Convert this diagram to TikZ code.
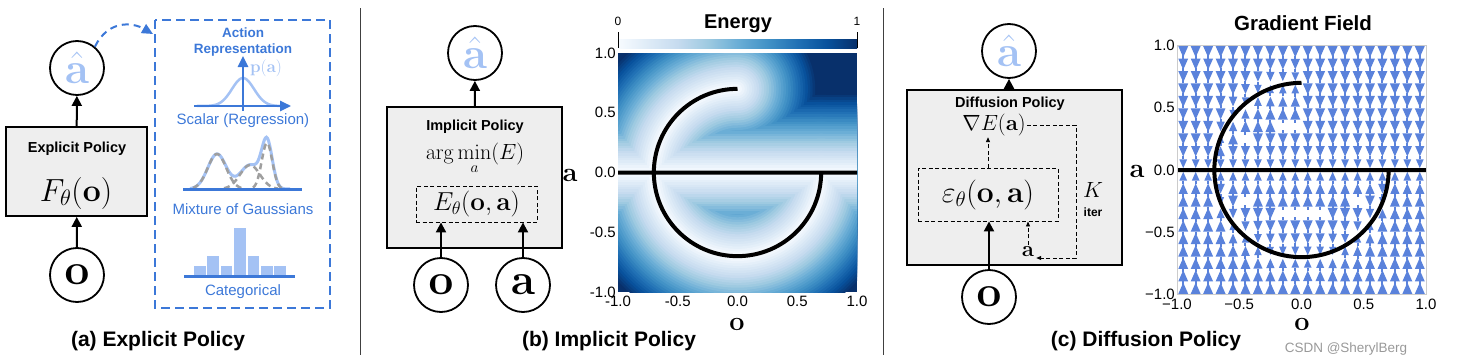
\RequirePackage{fix-cm}
\documentclass[tikz,border=0pt]{standalone}
\usepackage[no-math]{fontspec}
\setmainfont{Liberation Sans}
\usepackage{amsmath}
\usetikzlibrary{arrows.meta}

\definecolor{repblue}{HTML}{3C78D8}
\definecolor{lightblue}{HTML}{A4C2F4}
\definecolor{boxgray}{HTML}{EEEEEE}
\definecolor{fieldblue}{HTML}{5A82DB}
\definecolor{bl0}{HTML}{F7FBFF}
\definecolor{bl1}{HTML}{DEEBF7}
\definecolor{bl2}{HTML}{C6DBEF}
\definecolor{bl3}{HTML}{9ECAE1}
\definecolor{bl4}{HTML}{6BAED6}
\definecolor{bl5}{HTML}{4292C6}
\definecolor{bl6}{HTML}{2171B5}
\definecolor{bl7}{HTML}{08519C}
\definecolor{bl8}{HTML}{08306B}

\pgfdeclarehorizontalshading{energybar}{100bp}{color(0bp)=(bl0); color(25bp)=(bl0); color(31.25bp)=(bl1); color(37.5bp)=(bl2); color(43.75bp)=(bl3); color(50bp)=(bl4); color(56.25bp)=(bl5); color(62.5bp)=(bl6); color(68.75bp)=(bl7); color(75bp)=(bl8); color(100bp)=(bl8)}

\newcommand\fsz[1]{\fontsize{#1}{#1}\selectfont}

\tikzset{
  circ/.style={circle, draw, line width=1.8pt, minimum size=54pt, inner sep=0pt, font={\fsz{44}}},
  polbox/.style={draw, fill=boxgray, line width=1.8pt},
  boxtitle/.style={font={\bfseries\fsz{14.5}}},
  dbox/.style={draw, line width=0.9pt, dash pattern=on 4pt off 2.5pt, inner sep=0pt},
  arr/.style={-{Triangle[length=10pt,width=10pt]}, line width=2pt},
  darr/.style={-{Triangle[length=5pt,width=4pt]}, line width=0.9pt, dash pattern=on 4pt off 2.5pt},
  repbox/.style={repblue, line width=2pt, dash pattern=on 9pt off 5pt},
  reparr/.style={repblue, line width=2pt, dash pattern=on 7pt off 5pt, -{Triangle[length=11pt,width=10pt]}},
  repbold/.style={text=repblue, font={\bfseries\fsz{13.5}}},
  reptext/.style={text=repblue, font={\fsz{15}}},
  axarr/.style={repblue, line width=2.5pt, -{Triangle[length=11pt,width=10pt]}},
  caption/.style={font={\bfseries\fsz{21}}, anchor=base},
  tick/.style={font={\fsz{15}}, inner sep=1pt},
  axlabel/.style={font={\fsz{27}}, anchor=base, inner sep=0pt},
  curve/.style={line width=4pt},
  sep/.style={line width=1pt, black!75}
}

\begin{document}
\begin{tikzpicture}[x=1pt,y=-1pt]
\useasboundingbox (0,0) rectangle (1465,364);

\node[polbox, minimum width=141pt, minimum height=89pt] (boxA) at (76.5,171.5) {};
\node[boxtitle] (titleA) at (77,149) {Explicit Policy};
\node[font={\fsz{32}}] (funcA) at (76,193) {$F_\theta(\mathbf{o})$};
\node[circ, text=lightblue] (ahatA) at (77,68) {$\hat{\mathbf{a}}$};
\node[circ] (obsA) at (77,275) {$\mathbf{o}$};
\draw[arr] (obsA) -- (boxA);
\draw[arr] (boxA) -- (ahatA);

\draw[repbox] (155,20) rectangle (330,308);
\coordinate (repin) at (153,34);
\draw[reparr] (ahatA.50) .. controls (108,20) and (132,22) .. (repin);
\node[repbold] (repT1) at (243,33) {Action};
\node[repbold] (repT2) at (243,50) {Representation};
\draw[lightblue, line width=2.5pt] plot[domain=197:289, samples=60] (\x,{106-28*exp(-(((\x-243)/15.6)^2))});
\draw[axarr] (194,106) -- (291,106);
\draw[axarr] (243,111) -- (243,56);
\node[text=lightblue, font={\fsz{17}}] (pa) at (266,68) {$\mathbf{p}(\mathbf{a})$};
\node[reptext] (scalarT) at (243,121) {Scalar (Regression)};

\draw[lightblue, line width=3pt] plot[domain=190:290, samples=90] (\x,{189-35*exp(-(((\x-217)/13)^2))-24*exp(-(((\x-250)/14)^2))-46*exp(-(((\x-267)/7.5)^2))});
\draw[gray!75, line width=2.5pt, dash pattern=on 6pt off 4pt] plot[domain=193:242, samples=40] (\x,{189-35*exp(-(((\x-217)/13)^2))});
\draw[gray!75, line width=2.5pt, dash pattern=on 6pt off 4pt] plot[domain=224:278, samples=40] (\x,{189-24*exp(-(((\x-250)/14)^2))});
\draw[gray!75, line width=2.5pt, dash pattern=on 6pt off 4pt] plot[domain=253:284, samples=40] (\x,{189-46*exp(-(((\x-267)/7.5)^2))});
\draw[repblue, line width=3pt] (183,189) -- (302,189);
\node[reptext] (mogT) at (243,209) {Mixture of Gaussians};

\foreach \k/\t in {0/266,1/256,2/266,3/228,4/256,5/266,6/266}
  \fill[lightblue] ({194+13.4*\k},\t) rectangle ++(11.6,{275-\t});
\draw[repblue, line width=3pt] (184,276) -- (295,276);
\node[reptext] (catT) at (243,292) {Categorical};

\node[caption] (capA) at (158,346) {(a) Explicit Policy};

\draw[sep] (360,8) -- (360,355);
\draw[sep] (883,8) -- (883,355);

\node[polbox, minimum width=175pt, minimum height=141pt] (boxB) at (474.5,177.5) {};
\node[boxtitle] (titleB) at (475,127) {Implicit Policy};
\node[font={\fsz{22}}, inner sep=0pt] (argminB) at (475,159) {$\displaystyle\arg\min_{a}(E)$};
\node[dbox, minimum width=121pt, minimum height=36pt, font={\fsz{26}}] (eboxB) at (476.5,204) {$E_\theta(\mathbf{o},\mathbf{a})$};
\node[circ, text=lightblue] (ahatB) at (475,53) {$\hat{\mathbf{a}}$};
\node[circ] (obsB) at (441,285) {$\mathbf{o}$};
\node[circ] (actB) at (523,285) {$\mathbf{a}$};
\draw[arr] (boxB) -- (ahatB);
\draw[arr] (obsB) -- (obsB |- eboxB.south);
\draw[arr] (actB) -- (actB |- eboxB.south);

\shade[shading=energybar] (618,39) rectangle (857,48);
\draw[line width=1pt] (618,32) -- (618,48);
\draw[line width=1pt] (857,32) -- (857,48);
\node[anchor=base, font={\fsz{12}}] (bar0) at (618,25) {0};
\node[anchor=base, font={\fsz{12}}] (bar1) at (857,25) {1};
\node[anchor=base, font={\bfseries\fsz{20}}] (energyT) at (738,28.5) {Energy};

\begin{scope}[shift={(737.5,172.5)}, x=119.5pt, y=119.5pt]
  \begin{scope}
    \clip (-1,-1) rectangle (1,1);
    \fill[bl8] (-1,-1) rectangle (1,1);
    \foreach \i in {31,...,0}{
      \pgfmathtruncatemacro\cj{\i/4}
      \pgfmathtruncatemacro\cn{\cj+1}
      \pgfmathtruncatemacro\cm{100-25*(\i-4*\cj)}
      \pgfmathsetmacro\dd{(\i+1)*0.0203125}
      \pgfmathsetmacro\rout{0.7+\dd}
      \pgfmathsetmacro\rin{max(0.7-\dd,0.002)}
      \colorlet{lvl}{bl\cj!\cm!bl\cn}
      \fill[lvl] (-1,-\dd) rectangle (1,\dd);
      \fill[lvl] (90:\rout) arc[start angle=90, end angle=360, radius=\rout] -- (0:\rin) arc[start angle=360, end angle=90, radius=\rin] -- cycle;
      \fill[lvl] (0,0.7) circle[radius=\dd];
      \fill[lvl] (0.7,0) circle[radius=\dd];
    }
    \draw[curve] (-1,0) -- (1,0) (0,0.7) arc[start angle=90, end angle=360, radius=0.7];
  \end{scope}
  \foreach \t/\l in {-1/-1.0,-0.5/-0.5,0/0.0,0.5/0.5,1/1.0}{
    \node[tick, anchor=east, xshift=-1pt] at (-1,\t) {\l};
    \node[tick, anchor=north, yshift=-3pt] at (\t,-1) {\l};
  }
\end{scope}
\node[axlabel] (axAB) at (570,181) {$\mathbf{a}$};
\node[axlabel] (axOB) at (737,330) {$\mathbf{o}$};
\node[caption] (capB) at (609,346) {(b) Implicit Policy};

\node[polbox, minimum width=215pt, minimum height=175pt] (boxC) at (1014.5,177.5) {};
\node[boxtitle] (titleC) at (1010,104) {Diffusion Policy};
\node[font={\fsz{22}}, inner sep=1pt] (gradE) at (994,125) {$\nabla E(\mathbf{a})$};
\node[dbox, minimum width=140pt, minimum height=53pt, font={\fsz{30}}] (epsbox) at (988,194.5) {$\varepsilon_\theta(\mathbf{o},\mathbf{a})$};
\node[font={\fsz{22}}, inner sep=2pt] (aC) at (1028,252) {$\mathbf{a}$};
\node[font={\fsz{22}}] (kC) at (1093,190) {$K$};
\node[font={\bfseries\fsz{12}}] (iterC) at (1093,212) {iter};
\coordinate (loopR) at (1076,258);
\draw[darr] (epsbox.north) -- (epsbox.north |- gradE.south);
\draw[darr] (gradE.east) -| (loopR) -- (loopR -| aC.east);
\draw[darr] (aC.north) -- (aC.north |- epsbox.south);
\node[circ, text=lightblue] (ahatC) at (1009,51) {$\hat{\mathbf{a}}$};
\node[circ] (obsC) at (989,297) {$\mathbf{o}$};
\draw[arr] (ahatC |- boxC.north) -- (ahatC);
\draw[arr] (obsC) -- (obsC |- epsbox.south);

\node[anchor=base, font={\bfseries\fsz{20.5}}] (fieldT) at (1303,30) {Gradient Field};
\begin{scope}[shift={(1301.5,170)}, x=124.5pt, y=124.5pt]
  \begin{scope}
    \clip (-1,-1) rectangle (1,1);
    \foreach \i in {0,...,19}{
      \foreach \j in {0,...,19}{
        \pgfmathsetmacro\fo{-0.95+0.1*\i}
        \pgfmathsetmacro\fa{-0.95+0.1*\j}
        \pgfmathsetmacro\fs{abs(\fo)<0.7 ? sqrt(max(0.49-(\fo)*(\fo),0)) : 5}
        \pgfmathsetmacro\fsu{\fo<0 ? \fs : 5}
        \pgfmathsetmacro\fda{abs(\fa)}
        \pgfmathsetmacro\fdb{abs(\fa+\fs)}
        \pgfmathsetmacro\fdc{abs(\fa-\fsu)}
        \pgfmathsetmacro\fdn{min(\fda,\fdb,\fdc)}
        \pgfmathsetmacro\fnt{\fda==\fdn ? 0 : (\fdb==\fdn ? -\fs : \fsu)}
        \pgfmathsetmacro\fdir{\fnt>\fa ? 1 : -1}
        \pgfmathsetmacro\fdg{\fda+\fdb+\fdc-max(\fda,\fdb,\fdc)-2*\fdn}
        \pgfmathsetmacro\fsc{min(1,0.7+1.5*\fdn)}
        \pgfmathsetmacro\fh{0.045*\fsc}
        \pgfmathsetmacro\fw{0.04*\fsc}
        \ifdim\fdg pt<0.04pt\else
          \fill[fieldblue] (\fo,{\fa+\fdir*\fh}) -- ({\fo-\fw},{\fa-\fdir*\fh}) -- ({\fo+\fw},{\fa-\fdir*\fh}) -- cycle;
          \draw[fieldblue, line width=2pt] (\fo,{\fa-\fdir*\fh}) -- (\fo,{\fa-\fdir*(\fh+0.025)});
        \fi
      }
    }
    \draw[curve] (-1,0) -- (1,0) (0,0.7) arc[start angle=90, end angle=360, radius=0.7];
  \end{scope}
  \draw[gray!40, line width=0.8pt] (-1,-1) rectangle (1,1);
  \foreach \t/\l in {-1/−1.0,-0.5/−0.5,0/0.0,0.5/0.5,1/1.0}{
    \node[tick, anchor=east, xshift=-1pt] at (-1,\t) {\l};
    \node[tick, anchor=north, yshift=-3pt] at (\t,-1) {\l};
  }
\end{scope}
\node[axlabel] (axAC) at (1137,177) {$\mathbf{a}$};
\node[axlabel] (axOC) at (1302,330) {$\mathbf{o}$};
\node[caption] (capC) at (1146,346) {(c) Diffusion Policy};
\node[anchor=base, text=gray!80, font={\fsz{13.5}}] (markC) at (1346,352) {CSDN @SherylBerg};
\end{tikzpicture}
\end{document}
